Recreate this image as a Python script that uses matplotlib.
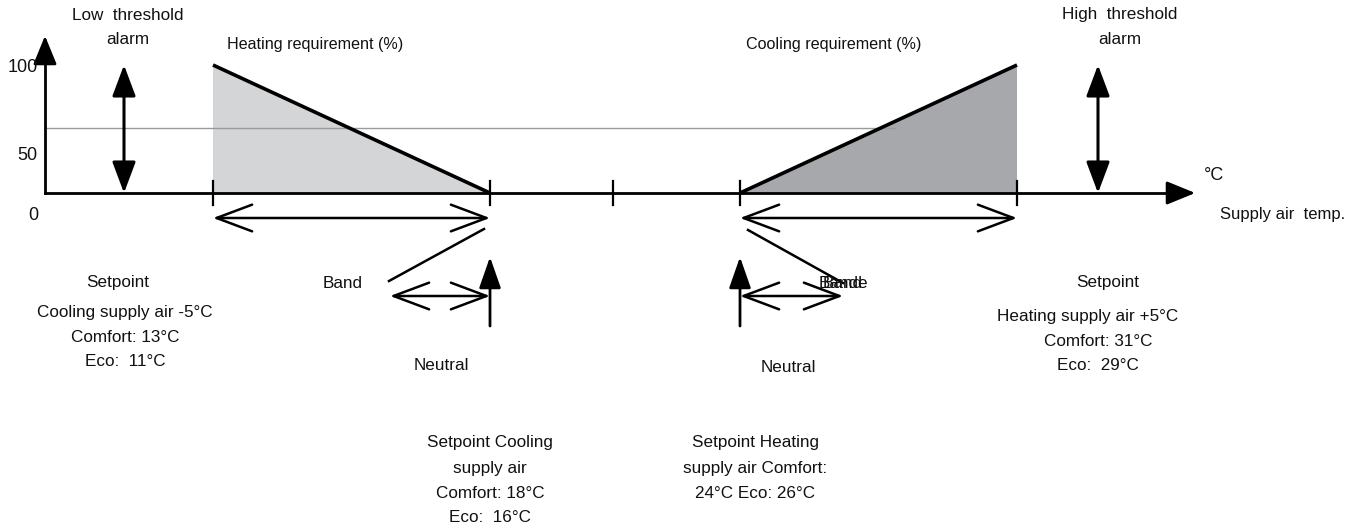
import matplotlib
matplotlib.use("Agg")
import matplotlib.pyplot as plt
from matplotlib.patches import Polygon

plt.rcParams['font.family'] = ['Liberation Sans', 'DejaVu Sans']

# ---- diagram data (x: temperature-axis position, y: requirement %) ----
temp_ticks = [213, 490, 613, 740, 1017]
heating_x = [213, 490]
heating_pct = [100, 0]
cooling_x = [740, 1017]
cooling_pct = [0, 100]
ref_line_pct = 51
y_tick_labels = ["0", "50", "100"]
alarm_x = [124, 1098]

# ---- layout helpers ----
Y0 = 193          # pixel row of 0 %
SCALE = 1.28      # pixels per percent
def py(p):
    return Y0 - p * SCALE

fig = plt.figure(figsize=(13.64, 5.30), dpi=100)
ax = fig.add_axes([0, 0, 1, 1])
ax.set_xlim(0, 1364)
ax.set_ylim(530, 0)
ax.axis('off')

FS = 12.3
K = 'black'

# filled areas
ax.add_patch(Polygon([(heating_x[0], py(0)), (heating_x[0], py(heating_pct[0])),
                      (heating_x[1], py(heating_pct[1]))], closed=True,
                     facecolor='#d4d5d7', edgecolor='none', zorder=1))
ax.add_patch(Polygon([(cooling_x[0], py(cooling_pct[0])), (cooling_x[1], py(cooling_pct[1])),
                      (cooling_x[1], py(0))], closed=True,
                     facecolor='#a7a8ab', edgecolor='none', zorder=1))

# reference gray line
ax.plot([47, 895], [py(ref_line_pct)] * 2, color='#9a9a9a', lw=1.0, zorder=2)

# slopes
ax.plot(heating_x, [py(v) for v in heating_pct], color=K, lw=2.6, zorder=3, solid_capstyle='butt')
ax.plot(cooling_x, [py(v) for v in cooling_pct], color=K, lw=2.6, zorder=3, solid_capstyle='butt')

# axes with arrowheads
ax.plot([45, 1180], [Y0, Y0], color=K, lw=2.0, zorder=3)
ax.annotate('', xy=(1198, Y0), xytext=(1170, Y0),
            arrowprops=dict(arrowstyle='-|>,head_length=1.1,head_width=0.45', color=K, lw=2, mutation_scale=16))
ax.plot([45, 45], [Y0, 55], color=K, lw=2.0, zorder=3)
ax.annotate('', xy=(45, 33), xytext=(45, 60),
            arrowprops=dict(arrowstyle='-|>,head_length=1.1,head_width=0.45', color=K, lw=2, mutation_scale=16))

# ticks
for t in temp_ticks:
    ax.plot([t, t], [Y0 - 12, Y0 + 12], color=K, lw=1.6, zorder=3)

# alarm double arrows
for ax_x in alarm_x:
    ax.annotate('', xy=(ax_x, py(0)), xytext=(ax_x, py(100)),
                arrowprops=dict(arrowstyle='<|-|>,head_length=1.2,head_width=0.45', color=K, lw=2.2,
                                mutation_scale=16, shrinkA=0, shrinkB=0))

# band arrows (open heads)
band_spans = [(213, 490), (740, 1017)]
for a, b in band_spans:
    ax.annotate('', xy=(b, 218), xytext=(a, 218),
                arrowprops=dict(arrowstyle='<->,head_length=1.6,head_width=0.6', color=K, lw=1.8,
                                mutation_scale=16, shrinkA=0, shrinkB=0))

# setpoint arrows
for sx in [490, 740]:
    ax.annotate('', xy=(sx, 257), xytext=(sx, 326),
                arrowprops=dict(arrowstyle='-|>,head_length=1.2,head_width=0.42', color=K, lw=2.0,
                                mutation_scale=16, shrinkA=0, shrinkB=0))

# neutral arrows
for a, b in [(390, 490), (740, 843)]:
    ax.annotate('', xy=(b, 296), xytext=(a, 296),
                arrowprops=dict(arrowstyle='<->,head_length=1.6,head_width=0.6', color=K, lw=1.8,
                                mutation_scale=16, shrinkA=0, shrinkB=0))

# diagonal pointer lines
ax.plot([389, 484], [281, 229], color=K, lw=1.8)
ax.plot([748, 843], [230, 283], color=K, lw=1.8)

# ---- texts ----
def t(x, y, s, ha='center', fs=FS):
    ax.text(x, y, s, ha=ha, va='center', fontsize=fs, color='#111111')

t(23, 68, y_tick_labels[2], fs=13)
t(27, 155, y_tick_labels[1], fs=13)
t(33, 215, y_tick_labels[0], fs=13)

t(128, 15, "Low  threshold")
t(128, 40, "alarm")
t(1120, 15, "High  threshold")
t(1120, 40, "alarm")
t(227, 45, "Heating requirement (%)", ha='left', fs=11.6)
t(834, 45, "Cooling requirement (%)", fs=11.6)
t(1214, 176, "°C", fs=13)
t(1220, 215, "Supply air  temp.", ha='left', fs=12)

t(343, 283, "Band")
ax.text(843, 283, "Band", ha='center', va='center', fontsize=FS, color='#111111')
ax.text(843, 283, "Bande", ha='center', va='center', fontsize=FS, color='#111111')

t(441, 366, "Neutral")
t(788, 368, "Neutral")

t(118, 283, "Setpoint")
t(125, 313, "Cooling supply air -5°C")
t(125, 338, "Comfort: 13°C")
t(125, 362, "Eco:  11°C")

t(1108, 283, "Setpoint")
t(1088, 316, "Heating supply air +5°C")
t(1098, 341, "Comfort: 31°C")
t(1098, 366, "Eco:  29°C")

t(490, 443, "Setpoint Cooling")
t(490, 468, "supply air")
t(490, 494, "Comfort: 18°C")
t(490, 518, "Eco:  16°C")

t(755, 443, "Setpoint Heating")
t(755, 469, "supply air Comfort:")
t(755, 494, "24°C Eco: 26°C")

fig.savefig("out.png", dpi=100, facecolor='white')
